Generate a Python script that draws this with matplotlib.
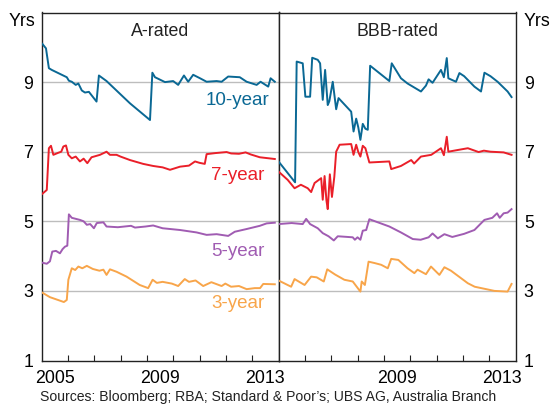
import matplotlib
matplotlib.use("Agg")
import matplotlib.pyplot as plt
import numpy as np

plt.rcParams['font.family'] = ['Liberation Sans', 'DejaVu Sans']

# ---------------- data (decimal years, years to maturity) ----------------
a10_x = [2005.03, 2005.17, 2005.28, 2005.39, 2005.96, 2006.04, 2006.15, 2006.30, 2006.40, 2006.53,
         2006.65, 2006.80, 2007.09, 2007.18, 2007.47, 2008.36, 2009.12, 2009.21, 2009.31, 2009.69,
         2010.0, 2010.19, 2010.41, 2010.57, 2010.76, 2011.02, 2011.27, 2011.65, 2011.84, 2012.09,
         2012.53, 2012.79, 2013.17, 2013.32, 2013.61, 2013.70, 2013.86]
a10_y = [10.10, 9.97, 9.40, 9.35, 9.14, 9.04, 9.01, 8.92, 8.96, 8.76,
         8.70, 8.72, 8.44, 9.19, 9.03, 8.39, 7.91, 9.27, 9.14, 9.00,
         9.03, 8.92, 9.19, 9.01, 9.21, 9.11, 9.01, 9.03, 9.01, 9.16,
         9.14, 9.01, 8.92, 9.01, 8.87, 9.11, 9.01]

a7_x = [2005.03, 2005.20, 2005.28, 2005.36, 2005.45, 2005.64, 2005.75, 2005.83, 2005.93, 2006.02,
        2006.15, 2006.30, 2006.46, 2006.60, 2006.74, 2006.90, 2007.22, 2007.47, 2007.60, 2007.85,
        2008.0, 2008.36, 2008.86, 2009.24, 2009.60, 2009.88, 2010.05, 2010.26, 2010.60, 2010.83,
        2011.0, 2011.20, 2011.27, 2011.60, 2012.03, 2012.20, 2012.50, 2012.75, 2012.95, 2013.29,
        2013.86]
a7_y = [5.79, 5.90, 7.10, 7.17, 6.91, 6.97, 7.00, 7.15, 7.18, 6.91,
        6.81, 6.86, 6.72, 6.80, 6.67, 6.84, 6.91, 7.00, 6.91, 6.91,
        6.86, 6.76, 6.65, 6.59, 6.55, 6.48, 6.52, 6.57, 6.60, 6.72,
        6.68, 6.65, 6.93, 6.96, 6.99, 6.95, 6.94, 6.98, 6.92, 6.84,
        6.79]

a5_x = [2005.03, 2005.20, 2005.32, 2005.41, 2005.55, 2005.70, 2005.80, 2005.89, 2005.98, 2006.04,
        2006.15, 2006.46, 2006.60, 2006.72, 2006.85, 2006.99, 2007.10, 2007.35, 2007.47, 2007.90,
        2008.40, 2008.55, 2008.95, 2009.24, 2009.60, 2010.26, 2010.89, 2011.27, 2011.65, 2012.09,
        2012.34, 2012.80, 2013.29, 2013.55, 2013.86]
a5_y = [3.81, 3.78, 3.85, 4.13, 4.15, 4.08, 4.20, 4.27, 4.30, 5.20,
        5.10, 5.04, 5.00, 4.90, 4.92, 4.80, 4.95, 4.97, 4.85, 4.83,
        4.87, 4.82, 4.85, 4.88, 4.80, 4.75, 4.68, 4.61, 4.63, 4.58,
        4.70, 4.78, 4.87, 4.94, 4.96]

a3_x = [2005.03, 2005.32, 2005.70, 2005.85, 2005.96, 2006.02, 2006.15, 2006.28, 2006.40, 2006.55,
        2006.72, 2006.95, 2007.20, 2007.35, 2007.47, 2007.60, 2007.85, 2008.23, 2008.73, 2009.05,
        2009.22, 2009.38, 2009.60, 2009.95, 2010.19, 2010.44, 2010.60, 2010.85, 2011.14, 2011.45,
        2011.84, 2011.98, 2012.20, 2012.50, 2012.79, 2013.10, 2013.30, 2013.42, 2013.86]
a3_y = [2.95, 2.82, 2.72, 2.68, 2.74, 3.32, 3.65, 3.60, 3.70, 3.65,
        3.72, 3.63, 3.58, 3.61, 3.46, 3.62, 3.55, 3.41, 3.17, 3.08,
        3.32, 3.23, 3.26, 3.21, 3.14, 3.34, 3.26, 3.30, 3.14, 3.25,
        3.14, 3.21, 3.12, 3.14, 3.05, 3.08, 3.08, 3.20, 3.19]

b10_x = [2005.0, 2005.63, 2005.69, 2005.92, 2006.02, 2006.20, 2006.28, 2006.49, 2006.58, 2006.68,
         2006.77, 2006.87, 2006.93, 2007.06, 2007.19, 2007.28, 2007.76, 2007.85, 2007.95, 2008.03,
         2008.11, 2008.20, 2008.30, 2008.39, 2008.48, 2009.21, 2009.30, 2009.65, 2009.90, 2010.41,
         2010.60, 2010.70, 2010.85, 2011.17, 2011.28, 2011.39, 2011.45, 2011.74, 2011.87, 2012.05,
         2012.44, 2012.69, 2012.82, 2013.05, 2013.32, 2013.70, 2013.85]
b10_y = [6.72, 6.12, 9.59, 9.54, 8.58, 8.58, 9.70, 9.64, 9.54, 8.49,
         9.35, 8.34, 8.45, 9.01, 8.22, 8.54, 8.15, 7.58, 7.95, 7.70,
         7.34, 7.80, 7.66, 7.63, 9.47, 9.03, 9.54, 9.11, 8.96, 8.73,
         8.90, 9.08, 8.98, 9.35, 9.14, 9.69, 9.11, 9.01, 9.26, 9.17,
         8.87, 8.73, 9.27, 9.17, 9.01, 8.73, 8.57]

b7_x = [2005.0, 2005.35, 2005.61, 2005.85, 2006.11, 2006.24, 2006.37, 2006.62, 2006.68, 2006.75,
        2006.82, 2006.87, 2006.95, 2007.03, 2007.12, 2007.19, 2007.32, 2007.76, 2007.85, 2007.95,
        2008.03, 2008.11, 2008.20, 2008.30, 2008.45, 2009.21, 2009.28, 2009.65, 2010.04, 2010.15,
        2010.41, 2010.80, 2011.17, 2011.28, 2011.39, 2011.45, 2011.74, 2012.19, 2012.60, 2012.80,
        2013.05, 2013.55, 2013.85]
b7_y = [6.43, 6.19, 5.95, 6.05, 5.95, 5.84, 6.10, 6.24, 5.62, 6.30,
        5.60, 5.35, 6.35, 5.70, 6.28, 7.00, 7.20, 7.22, 6.91, 7.20,
        6.99, 6.86, 7.17, 7.10, 6.69, 6.72, 6.50, 6.59, 6.76, 6.66,
        6.86, 6.91, 7.10, 6.90, 7.43, 7.00, 7.04, 7.10, 6.99, 7.03,
        7.00, 6.98, 6.91]

b5_x = [2005.0, 2005.50, 2005.92, 2006.05, 2006.20, 2006.49, 2006.68, 2006.90, 2007.10, 2007.25,
        2007.82, 2007.90, 2008.00, 2008.11, 2008.20, 2008.33, 2008.45, 2009.21, 2009.65, 2010.10,
        2010.40, 2010.70, 2010.85, 2011.05, 2011.30, 2011.60, 2012.05, 2012.44, 2012.82, 2013.12,
        2013.30, 2013.40, 2013.55, 2013.70, 2013.85]
b5_y = [4.92, 4.95, 4.92, 5.07, 4.92, 4.80, 4.66, 4.57, 4.45, 4.57,
        4.54, 4.47, 4.54, 4.47, 4.73, 4.75, 5.06, 4.85, 4.68, 4.49,
        4.47, 4.54, 4.65, 4.51, 4.63, 4.55, 4.64, 4.75, 5.04, 5.10,
        5.23, 5.10, 5.23, 5.25, 5.35]

b3_x = [2005.0, 2005.48, 2005.61, 2005.99, 2006.24, 2006.45, 2006.72, 2006.85, 2007.15, 2007.50,
        2007.82, 2008.11, 2008.16, 2008.28, 2008.42, 2008.65, 2008.90, 2009.15, 2009.28, 2009.55,
        2009.90, 2010.16, 2010.28, 2010.60, 2010.79, 2011.11, 2011.30, 2011.55, 2012.19, 2012.45,
        2012.70, 2013.20, 2013.70, 2013.85]
b3_y = [3.30, 3.12, 3.34, 3.17, 3.41, 3.39, 3.27, 3.62, 3.47, 3.32,
        3.27, 2.98, 3.27, 3.17, 3.84, 3.80, 3.75, 3.65, 3.92, 3.89,
        3.65, 3.51, 3.61, 3.48, 3.70, 3.46, 3.68, 3.58, 3.22, 3.12,
        3.08, 3.00, 2.98, 3.20]

panel_titles = ["A-rated", "BBB-rated"]
series_labels = ["10-year", "7-year", "5-year", "3-year"]
label_values = [8.47, 6.33, 4.13, 2.63]
label_year = 2012.45
yticks = [1, 3, 5, 7, 9]
grid_levels = [3, 5, 7, 9]
year_ticks = list(range(2006, 2014))
left_xlabels = ["2005", "2009", "2013"]
right_xlabels = ["2009", "2013"]
source_text = "Sources: Bloomberg; RBA; Standard & Poor\u2019s; UBS AG, Australia Branch"

colors = {"10-year": "#0a6894", "7-year": "#ea1f29", "5-year": "#a05cb2", "3-year": "#f8a54a"}

# ---------------- figure ----------------
W, H = 551, 404
fig = plt.figure(figsize=(W / 100, H / 100), dpi=100)
left_px, mid_px, right_px, top_px, bot_px = 41.5, 278.5, 515.5, 12.5, 360.5
b = 1 - bot_px / H
h = (bot_px - top_px) / H
axL = fig.add_axes([left_px / W, b, (mid_px - left_px) / W, h])
axR = fig.add_axes([mid_px / W, b, (right_px - mid_px) / W, h])

panels = [
    (axL, [(a10_x, a10_y, "10-year"), (a7_x, a7_y, "7-year"), (a5_x, a5_y, "5-year"), (a3_x, a3_y, "3-year")]),
    (axR, [(b10_x, b10_y, "10-year"), (b7_x, b7_y, "7-year"), (b5_x, b5_y, "5-year"), (b3_x, b3_y, "3-year")]),
]

fs_tick = 12.8
for i, (ax, series) in enumerate(panels):
    ax.set_xlim(2005, 2014)
    ax.set_ylim(1, 11)
    for g in grid_levels:
        ax.axhline(g, color="#bdbdbd", lw=1.0, zorder=1)
    for xs, ys, name in series:
        ax.plot(xs, ys, color=colors[name], lw=1.4, zorder=3, solid_joinstyle="round")
    for sp in ax.spines.values():
        sp.set_color("#222222")
        sp.set_linewidth(1.0)
    ax.set_xticks(year_ticks)
    ax.set_xticklabels([])
    ax.tick_params(axis="x", which="major", direction="in", length=4.5, width=0.8, color="#222222")
    labs = left_xlabels if i == 0 else right_xlabels
    ax.set_xticks([int(l) + 0.5 for l in labs], minor=True)
    ax.set_xticklabels(labs, minor=True, fontsize=fs_tick)
    ax.tick_params(axis="x", which="minor", length=0, pad=7)
    ax.set_yticks(yticks)
    ax.set_yticklabels([str(v) for v in yticks], fontsize=fs_tick)
    ax.tick_params(axis="y", length=0, pad=6)
    ax.text(0.5, 0.945, panel_titles[i], transform=ax.transAxes, ha="center", va="center",
            fontsize=12.8, color="#222222")

axR.yaxis.tick_right()
axL.yaxis.tick_left()

# series labels in left panel
for name, v in zip(series_labels, label_values):
    axL.text(label_year, v, name, color=colors[name], fontsize=13.5, ha="center", va="center", zorder=4)

fig.text(9 / W, 1 - 21 / H, "Yrs", fontsize=fs_tick, ha="left", va="center")
fig.text(524 / W, 1 - 21 / H, "Yrs", fontsize=fs_tick, ha="left", va="center")
fig.text(40 / W, 1 - 397 / H, source_text, fontsize=10.1, ha="left", va="center", color="#222222")

fig.savefig("out.png", dpi=100)
